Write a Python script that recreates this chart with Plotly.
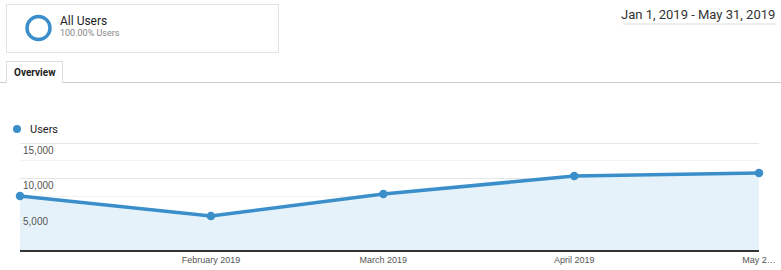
import plotly.graph_objects as go

# ---- data ----
months = ["2019-01-01", "2019-02-01", "2019-03-01", "2019-04-01", "2019-05-01"]
users = [7570, 4770, 7850, 10370, 10790]
tick_text = ["…", "February 2019", "March 2019", "April 2019", "May 2…"]
y_ticks = [5000, 10000, 15000]
y_tick_text = ["5,000", "10,000", "15,000"]
series_name = "Users"
segment_name = "All Users"
segment_share = "100.00% Users"
date_range = "Jan 1, 2019 - May 31, 2019"

W, H = 781, 270
L, R, T, B = 20, 22, 142, 20
PW, PH = W - L - R, H - T - B

def px(x):
    return (x - L) / PW

def py(y):
    return (H - B - y) / PH

BLUE = "#3a8fcb"
FILL = "#e5f2f9"

fig = go.Figure()
fig.add_trace(go.Scatter(
    x=months, y=users, mode="lines+markers", name=series_name,
    line=dict(color=BLUE, width=3.5),
    marker=dict(color=BLUE, size=8.5),
    fill="tozeroy", fillcolor=FILL,
    showlegend=False, cliponaxis=False,
))

shapes = []
annotations = []

# segment box
shapes.append(dict(type="rect", xref="paper", yref="paper",
                   x0=px(6.5), x1=px(278.5), y0=py(4.5), y1=py(52.5),
                   line=dict(color="#e3e3e3", width=1), fillcolor="white", layer="below"))
# ring
shapes.append(dict(type="circle", xref="paper", yref="paper",
                   x0=px(27), x1=px(50), y0=py(16.5), y1=py(39.5),
                   line=dict(color=BLUE, width=3.5)))
annotations.append(dict(text=segment_name, xref="paper", yref="paper", x=px(58), y=py(21),
                        xanchor="left", yanchor="middle", showarrow=False,
                        font=dict(family="Roboto", size=12, color="#222")))
annotations.append(dict(text=segment_share, xref="paper", yref="paper", x=px(58), y=py(33),
                        xanchor="left", yanchor="middle", showarrow=False,
                        font=dict(family="Roboto", size=9, color="#888")))
# date range
annotations.append(dict(text=date_range, xref="paper", yref="paper", x=px(777), y=py(14),
                        xanchor="right", yanchor="middle", showarrow=False,
                        font=dict(family="Roboto", size=13, color="#333")))
shapes.append(dict(type="line", xref="paper", yref="paper",
                   x0=px(623), x1=px(777), y0=py(24), y1=py(24),
                   line=dict(color="#eeeeee", width=2)))
# tab
shapes.append(dict(type="line", xref="paper", yref="paper",
                   x0=px(0), x1=px(6.5), y0=py(82.5), y1=py(82.5),
                   line=dict(color="#cccccc", width=1)))
shapes.append(dict(type="line", xref="paper", yref="paper",
                   x0=px(62.5), x1=px(781), y0=py(82.5), y1=py(82.5),
                   line=dict(color="#cccccc", width=1)))
shapes.append(dict(type="path", xref="paper", yref="paper",
                   path=f"M {px(6.5)},{py(82.5)} L {px(6.5)},{py(61.5)} L {px(62.5)},{py(61.5)} L {px(62.5)},{py(82.5)}",
                   line=dict(color="#dddddd", width=1)))
annotations.append(dict(text="<b>Overview</b>", xref="paper", yref="paper", x=px(12), y=py(72),
                        xanchor="left", yanchor="middle", showarrow=False,
                        font=dict(family="Roboto", size=10, color="#222")))
# legend
shapes.append(dict(type="circle", xref="paper", yref="paper",
                   x0=px(13), x1=px(21), y0=py(125), y1=py(133),
                   fillcolor=BLUE, line=dict(color=BLUE, width=0)))
annotations.append(dict(text=series_name, xref="paper", yref="paper", x=px(28), y=py(129),
                        xanchor="left", yanchor="middle", showarrow=False,
                        font=dict(family="Roboto", size=11, color="#222")))

fig.update_layout(
    width=W, height=H, margin=dict(l=L, r=R, t=T, b=B, autoexpand=False),
    paper_bgcolor="white", plot_bgcolor="white",
    shapes=shapes, annotations=annotations,
    xaxis=dict(type="date", range=[months[0], months[-1]], tickvals=months, ticktext=tick_text,
               showgrid=False, showline=True, linecolor="#333", linewidth=1.5,
               ticks="", tickfont=dict(family="Liberation Sans", size=9, color="#555"),
               zeroline=False, fixedrange=True, automargin=False),
    yaxis=dict(range=[0, 15150], tickvals=y_ticks, ticktext=y_tick_text,
               ticklabelposition="inside bottom",
               showgrid=True, gridcolor="#e6e6e6", gridwidth=1,
               minor=dict(dtick=2500, showgrid=True, gridcolor="#f3f3f3", gridwidth=1),
               zeroline=False, showline=False, ticks="",
               tickfont=dict(family="Liberation Sans", size=10, color="#555"),
               fixedrange=True, automargin=False),
)

fig.write_html("out.html")
